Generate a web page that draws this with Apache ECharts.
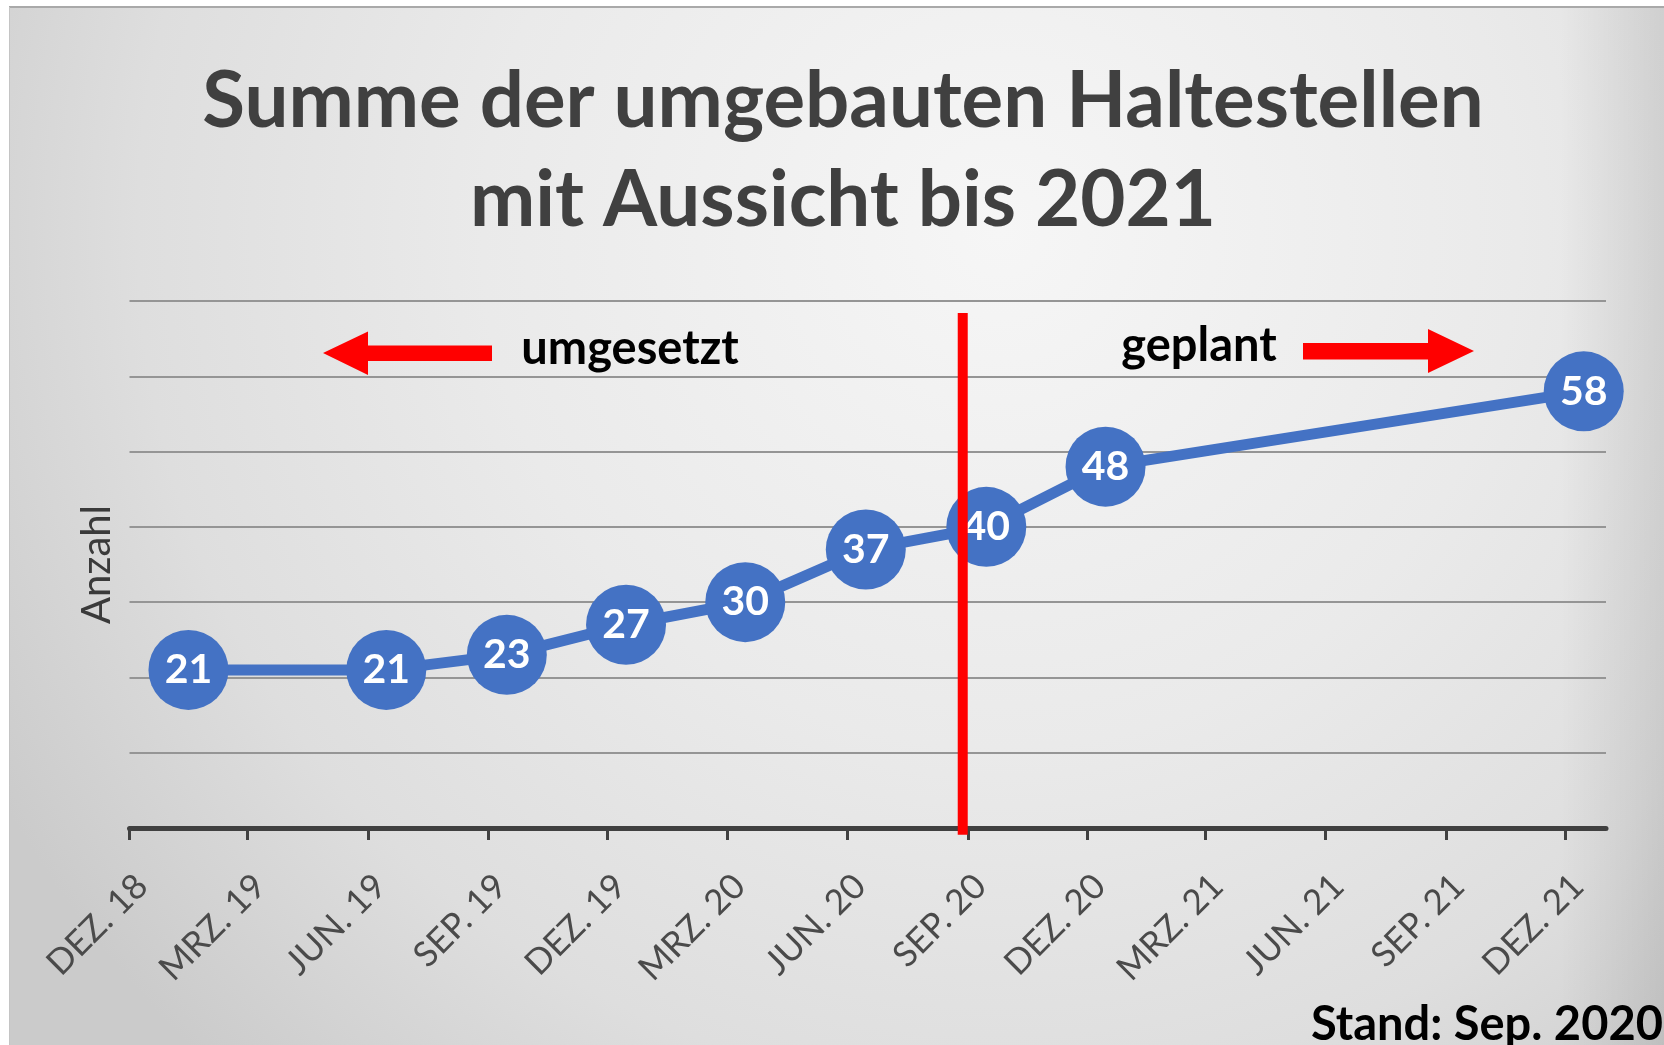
<!DOCTYPE html>
<html>
<head>
<meta charset="utf-8">
<script src="https://cdn.jsdelivr.net/npm/echarts@6/dist/echarts.min.js"></script>
<style>
html, body { margin: 0; padding: 0; background: #ffffff; }
#chart { width: 1664px; height: 1045px; }
</style>
</head>
<body>
<div id="chart"></div>
<script>
// ---------- data ----------
const titleLines = ['Summe der umgebauten Haltestellen', 'mit Aussicht bis 2021'];
const pointDates = ['2019-01-15', '2019-06-15', '2019-09-15', '2019-12-15', '2020-03-15',
                    '2020-06-15', '2020-09-15', '2020-12-15', '2021-12-15'];
const pointValues = [21, 21, 23, 27, 30, 37, 40, 48, 58];
const tickDates = ['2018-12-01', '2019-03-01', '2019-06-01', '2019-09-01', '2019-12-01',
                   '2020-03-01', '2020-06-01', '2020-09-01', '2020-12-01', '2021-03-01',
                   '2021-06-01', '2021-09-01', '2021-12-01'];
const tickLabels = ['DEZ. 18', 'MRZ. 19', 'JUN. 19', 'SEP. 19', 'DEZ. 19', 'MRZ. 20', 'JUN. 20',
                    'SEP. 20', 'DEZ. 20', 'MRZ. 21', 'JUN. 21', 'SEP. 21', 'DEZ. 21'];
const xRange = ['2018-12-01', '2022-01-01'];
const yRange = [0, 70];
const yStep = 10;
const cutoffDate = '2020-08-28';
const cutoffSpan = [-0.9, 68.4];
const yName = 'Anzahl';
const leftNote = 'umgesetzt';
const rightNote = 'geplant';
const footNote = 'Stand: Sep. 2020';

// ---------- chart ----------
const toTime = s => Date.parse(s + 'T00:00:00Z');
const tickTimes = tickDates.map(toTime);
const FONT = 'Lato';

const chart = echarts.init(document.getElementById('chart'), null, { renderer: 'canvas' });

const bgFill = new echarts.graphic.RadialGradient(1000, 230, 1150, [
  { offset: 0, color: '#f6f6f6' },
  { offset: 0.45, color: '#eaeaea' },
  { offset: 0.75, color: '#dedede' },
  { offset: 1, color: '#cbcbcb' }
], true);
const rightShade = new echarts.graphic.LinearGradient(1560, 0, 1664, 0, [
  { offset: 0, color: 'rgba(0,0,0,0)' },
  { offset: 1, color: 'rgba(0,0,0,0.09)' }
], true);

chart.setOption({
  animation: false,
  backgroundColor: '#ffffff',
  title: {
    text: titleLines.join('\n'),
    left: 838,
    top: 47,
    textAlign: 'center',
    textStyle: { fontFamily: FONT, fontSize: 78, fontWeight: 'bold', color: '#404040', lineHeight: 99 }
  },
  grid: { left: 129.5, right: 58, top: 301, bottom: 217, outerBoundsMode: 'none' },
  xAxis: {
    type: 'value',
    min: toTime(xRange[0]),
    max: toTime(xRange[1]),
    axisLine: { show: true, onZero: false, lineStyle: { color: '#404040', width: 5 } },
    axisTick: { show: true, customValues: tickTimes, length: 12, lineStyle: { color: '#404040', width: 3 } },
    axisLabel: {
      customValues: tickTimes,
      formatter: v => { const i = tickTimes.indexOf(v); return i >= 0 ? tickLabels[i] : ''; },
      rotate: 45,
      verticalAlign: 'top',
      margin: 40,
      color: '#4a4a4a',
      fontFamily: FONT,
      fontSize: 35
    },
    splitLine: { show: false }
  },
  yAxis: {
    type: 'value',
    min: yRange[0],
    max: yRange[1],
    interval: yStep,
    axisLine: { show: false },
    axisTick: { show: false },
    axisLabel: { show: false },
    splitLine: { show: true, lineStyle: { color: '#959595', width: 2 } },
    name: yName,
    nameLocation: 'middle',
    nameGap: 12,
    nameTextStyle: { fontFamily: FONT, fontSize: 40, color: '#3a3a3a' }
  },
  series: [
    {
      type: 'line',
      data: pointDates.map((d, i) => [toTime(d), pointValues[i]]),
      symbol: 'circle',
      symbolSize: 80,
      z: 2,
      clip: false,
      itemStyle: { color: '#4472C4' },
      lineStyle: { color: '#4472C4', width: 11 },
      label: {
        show: true,
        position: 'inside',
        formatter: p => String(p.value[1]),
        color: '#ffffff',
        fontFamily: FONT,
        fontSize: 41,
        fontWeight: 'bold'
      },
      emphasis: { disabled: true }
    },
    {
      type: 'line',
      data: [[toTime(cutoffDate), cutoffSpan[0]], [toTime(cutoffDate), cutoffSpan[1]]],
      symbol: 'none',
      z: 5,
      clip: false,
      silent: true,
      lineStyle: { color: '#ff0000', width: 10 },
      emphasis: { disabled: true }
    }
  ],
  graphic: [
    { type: 'rect', z: -10, silent: true, shape: { x: 9, y: 7, width: 1655, height: 1038 }, style: { fill: bgFill } },
    { type: 'rect', z: -9, silent: true, shape: { x: 1560, y: 7, width: 104, height: 1038 }, style: { fill: rightShade } },
    { type: 'line', z: -8, silent: true, shape: { x1: 9, y1: 7, x2: 1664, y2: 7 }, style: { stroke: '#a9a9a9', lineWidth: 2 } },
    { type: 'line', z: -8, silent: true, shape: { x1: 9.5, y1: 7, x2: 9.5, y2: 1045 }, style: { stroke: '#c4c4c4', lineWidth: 1 } },
    { type: 'polygon', silent: true, shape: { points: [[323, 353], [368, 331.5], [368, 345.5], [492, 345.5], [492, 361], [368, 361], [368, 375]] }, style: { fill: '#ff0000' } },
    { type: 'polygon', silent: true, shape: { points: [[1474, 351], [1428, 329], [1428, 343], [1303, 343], [1303, 359.5], [1428, 359.5], [1428, 373]] }, style: { fill: '#ff0000' } },
    { type: 'text', silent: true, style: { text: leftNote, x: 630, y: 349, align: 'center', verticalAlign: 'middle', font: 'bold 47px ' + FONT, fill: '#000000' } },
    { type: 'text', silent: true, style: { text: rightNote, x: 1199, y: 346, align: 'center', verticalAlign: 'middle', font: 'bold 47px ' + FONT, fill: '#000000' } },
    { type: 'text', silent: true, style: { text: footNote, x: 1311, y: 1025, align: 'left', verticalAlign: 'middle', font: 'bold 47px ' + FONT, fill: '#000000' } }
  ]
});
</script>
</body>
</html>
